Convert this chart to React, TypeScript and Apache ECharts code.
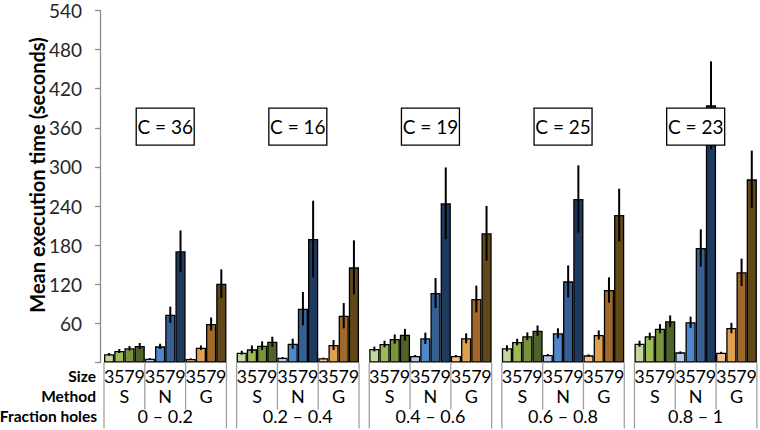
import React, { useEffect, useRef } from 'react';
import * as echarts from 'echarts';

const fractionHoles = ['0 – 0.2', '0.2 – 0.4', '0.4 – 0.6', '0.6 – 0.8', '0.8 – 1'];
const methods = ['S', 'N', 'G'];
const sizes = ['3', '5', '7', '9'];
const cLabels = ['C = 36', 'C = 16', 'C = 19', 'C = 25', 'C = 23'];
const yTicks = [0, 60, 120, 180, 240, 300, 360, 420, 480, 540];

// mean execution time, per fraction-holes group, sizes 3,5,7,9
const meanS = [[12.6, 17.6, 21.8, 25.3], [15, 20.2, 25.8, 31.9], [20.7, 28.4, 36, 42.6], [21.8, 31.4, 40.2, 48.8], [28.8, 40.2, 51.8, 63.2]];
const meanN = [[5.8, 24.8, 73.3, 170.6], [7.4, 28.8, 82.5, 189.4], [10, 37.1, 106.6, 244.2], [11.5, 44.8, 124.5, 250.8], [15.6, 61.7, 175.6, 394.5]];
const meanG = [[5.5, 22.7, 59, 120.9], [6.5, 26.8, 71.8, 146], [10, 37.1, 97.4, 198.2], [11, 42.2, 111.2, 226.2], [15, 52.9, 138.4, 281]];
// half-length of the error bars
const errS = [[2, 3, 3.5, 4.6], [3, 6, 6.7, 7.7], [3.6, 5, 7, 9], [4.6, 5, 6, 8], [4.6, 5.6, 7, 9]];
const errN = [[1, 4, 12.5, 32], [1, 7.7, 25.6, 58.8], [1.5, 8.7, 23, 55], [1.5, 7.7, 24.5, 51.6], [1.5, 8.7, 28.6, 67.5]];
const errG = [[1, 3.5, 10, 22], [1, 7.7, 19.5, 41.4], [1.5, 7.7, 20.5, 42], [1.5, 7, 19.4, 40.4], [1.5, 8, 21, 44]];
const cBoxValue = 362;

const colorsS = ['#c3d69b', '#9bbb59', '#77933c', '#4f6228'];
const colorsN = ['#b3c9e6', '#4f86cc', '#376092', '#1f3a5f'];
const colorsG = ['#f6c08c', '#dea04e', '#a0682a', '#614819'];

const FONT = 'Lato, "Open Sans", sans-serif';

export default function App() {
  const ref = useRef<HTMLDivElement>(null);
  useEffect(() => {
    if (!ref.current) return;
    const chart = echarts.init(ref.current, null, { renderer: 'svg' });
    const means = [meanS, meanN, meanG];
    const errs = [errS, errN, errG];
    const colors = [colorsS, colorsN, colorsG];
    const categories: string[] = [];
    const barData: any[] = [];
    const errData: any[] = [];
    fractionHoles.forEach((fh, g) => {
      methods.forEach((m, mi) => {
        sizes.forEach((s, si) => {
          const idx = categories.length;
          categories.push(`${fh}|${m}|${s}`);
          const v = means[mi][g][si];
          const e = errs[mi][g][si];
          barData.push({ value: v, itemStyle: { color: colors[mi][si] } });
          errData.push([idx, v - e, v + e]);
        });
      });
      if (g < fractionHoles.length - 1) {
        categories.push(`blank${g}`);
        barData.push('-');
      }
    });
    const groupData = fractionHoles.map((_, g) => [g * 13, 0, g]);
    const boxData = fractionHoles.map((_, g) => [g * 13, cBoxValue, g]);

    chart.setOption({
      animation: false,
      grid: { left: 104, right: 3, top: 10.5, bottom: 67.5, containLabel: false },
      xAxis: {
        type: 'category',
        data: categories,
        axisLine: { show: false },
        axisTick: { show: false },
        axisLabel: {
          interval: 0,
          margin: 4,
          fontFamily: FONT,
          fontSize: 18,
          color: '#000',
          formatter: (v: string) => v.split('|')[2] || '',
        },
      },
      yAxis: {
        type: 'value',
        min: yTicks[0],
        max: yTicks[yTicks.length - 1],
        interval: 60,
        offset: 4,
        axisLine: { show: true, lineStyle: { color: '#8c8c8c', width: 1.3 } },
        axisTick: { show: true, length: 5, lineStyle: { color: '#8c8c8c', width: 1.3 } },
        splitLine: { show: false },
        axisLabel: {
          margin: 18,
          fontFamily: FONT,
          fontSize: 19,
          color: '#262626',
          formatter: (v: number) => (v === 0 ? '' : String(v)),
        },
      },
      graphic: [
        {
          type: 'text',
          x: 36.5,
          y: 175,
          rotation: Math.PI / 2,
          style: {
            text: 'Mean execution time (seconds)',
            font: `bold 20px ${FONT}`,
            fill: '#000',
            align: 'center',
            verticalAlign: 'middle',
          },
        },
        { type: 'text', x: 96, y: 376, style: { text: 'Size', font: `bold 15.5px ${FONT}`, fill: '#000', align: 'right', verticalAlign: 'middle' } },
        { type: 'text', x: 96, y: 396, style: { text: 'Method', font: `bold 15.5px ${FONT}`, fill: '#000', align: 'right', verticalAlign: 'middle' } },
        { type: 'text', x: 97, y: 416, style: { text: 'Fraction holes', font: `bold 15.5px ${FONT}`, fill: '#000', align: 'right', verticalAlign: 'middle' } },
      ],
      series: [
        {
          type: 'bar',
          data: barData,
          barCategoryGap: 0,
          barGap: 0,
          itemStyle: { borderColor: '#000', borderWidth: 1.3 },
          z: 2,
        },
        {
          type: 'custom',
          data: errData,
          z: 3,
          renderItem: (_p: any, api: any) => {
            const x = api.value(0);
            const lo = api.coord([x, api.value(1)]);
            const hi = api.coord([x, api.value(2)]);
            return {
              type: 'line',
              shape: { x1: lo[0], y1: lo[1], x2: hi[0], y2: hi[1] },
              style: { stroke: '#000', lineWidth: 2 },
            };
          },
        },
        {
          type: 'custom',
          data: groupData,
          clip: false,
          z: 3,
          renderItem: (_p: any, api: any) => {
            const start = api.value(0);
            const g = api.value(2);
            const bw = api.size([1, 0])[0];
            const base = api.coord([start, 0]);
            const y0 = base[1];
            const left = base[0] - bw / 2;
            const right = api.coord([start + 11, 0])[0] + bw / 2;
            const m1 = api.coord([start + 4, 0])[0] - bw / 2;
            const m2 = api.coord([start + 8, 0])[0] - bw / 2;
            const lineStyle = { stroke: '#a0a0a0', lineWidth: 1.3 };
            const children: any[] = [
              { type: 'line', shape: { x1: left, y1: y0, x2: left, y2: y0 + 66 }, style: lineStyle },
              { type: 'line', shape: { x1: right, y1: y0, x2: right, y2: y0 + 66 }, style: lineStyle },
              { type: 'line', shape: { x1: m1, y1: y0, x2: m1, y2: y0 + 47 }, style: lineStyle },
              { type: 'line', shape: { x1: m2, y1: y0, x2: m2, y2: y0 + 47 }, style: lineStyle },
            ];
            const mx = [left, m1, m2, right];
            methods.forEach((m, i) => {
              children.push({
                type: 'text',
                x: (mx[i] + mx[i + 1]) / 2,
                y: y0 + 33,
                style: { text: m, font: `18px ${FONT}`, fill: '#000', align: 'center', verticalAlign: 'middle' },
              });
            });
            children.push({
              type: 'text',
              x: (left + right) / 2,
              y: y0 + 53,
              style: { text: fractionHoles[g], font: `18px ${FONT}`, fill: '#000', align: 'center', verticalAlign: 'middle' },
            });
            return { type: 'group', children };
          },
        },
        {
          type: 'custom',
          data: boxData,
          clip: false,
          z: 10,
          renderItem: (_p: any, api: any) => {
            const start = api.value(0);
            const g = api.value(2);
            const a = api.coord([start + 5, api.value(1)]);
            const b = api.coord([start + 6, api.value(1)]);
            const cx = (a[0] + b[0]) / 2;
            const cy = a[1];
            return {
              type: 'group',
              children: [
                {
                  type: 'rect',
                  shape: { x: cx - 29, y: cy - 18.5, width: 58, height: 37 },
                  style: { fill: '#fff', stroke: '#000', lineWidth: 1.3 },
                },
                {
                  type: 'text',
                  x: cx,
                  y: cy,
                  style: { text: cLabels[g], font: `19px ${FONT}`, fill: '#000', align: 'center', verticalAlign: 'middle' },
                },
              ],
            };
          },
        },
      ],
    });
    return () => chart.dispose();
  }, []);
  return <div ref={ref} style={{ position: 'absolute', left: 0, top: 0, width: 760, height: 430 }} />;
}
